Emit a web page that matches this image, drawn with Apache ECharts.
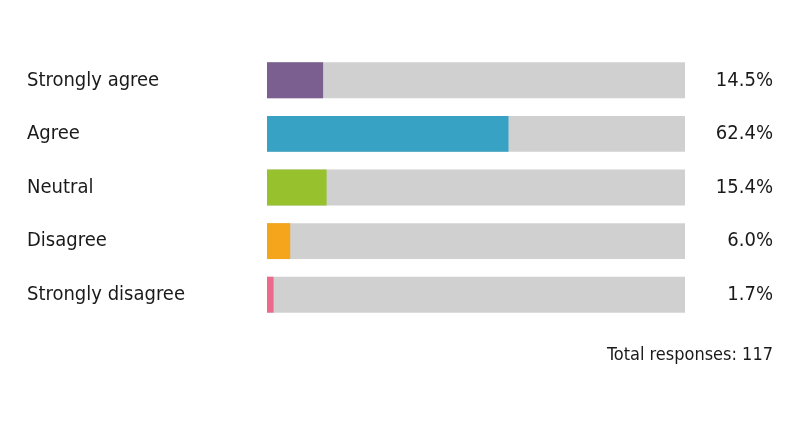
<!DOCTYPE html>
<html>
<head>
<meta charset="utf-8">
<script src="https://cdn.jsdelivr.net/npm/echarts@6/dist/echarts.min.js"></script>
<style>html,body{margin:0;padding:0;background:#fff}#c{width:800px;height:427px}</style>
</head>
<body>
<div id="c"></div>
<script>
const categories = ['Strongly agree', 'Agree', 'Neutral', 'Disagree', 'Strongly disagree'];
const percentages = [14.5, 62.4, 15.4, 6.0, 1.7];
const barColors = ['#7b5f91', '#38a2c4', '#97c22e', '#f5a51b', '#ec6b8d'];
const totalResponses = 117;
const scaleMax = 108;

const chart = echarts.init(document.getElementById('c'), null, {renderer: 'canvas'});
const font = '"DejaVu Sans Condensed", "DejaVu Sans", sans-serif';
chart.setOption({
  animation: false,
  grid: {left: 267, right: 115, top: 53.5, bottom: 427 - 321.5, containLabel: false},
  xAxis: {type: 'value', min: 0, max: scaleMax, show: false},
  yAxis: [
    {type: 'category', data: categories, inverse: true,
     axisLine: {show: false}, axisTick: {show: false}, splitLine: {show: false},
     axisLabel: {align: 'left', margin: 240, fontSize: 20, color: '#1a1a1a', fontFamily: font}},
    {type: 'category', data: percentages.map(v => v.toFixed(1) + '%'), inverse: true, position: 'right',
     axisLine: {show: false}, axisTick: {show: false}, splitLine: {show: false},
     axisLabel: {align: 'right', margin: 88, fontSize: 20, color: '#1a1a1a', fontFamily: font}}
  ],
  series: [{
    type: 'bar',
    data: percentages.map((v, i) => ({value: v, itemStyle: {color: barColors[i]}})),
    barCategoryGap: '33%',
    showBackground: true,
    backgroundStyle: {color: '#d0d0d0'}
  }],
  title: {
    text: 'Total responses: ' + totalResponses,
    right: 27, top: 346, padding: 0,
    textStyle: {fontSize: 18, fontWeight: 'normal', color: '#1a1a1a', fontFamily: font}
  }
});
</script>
</body>
</html>
